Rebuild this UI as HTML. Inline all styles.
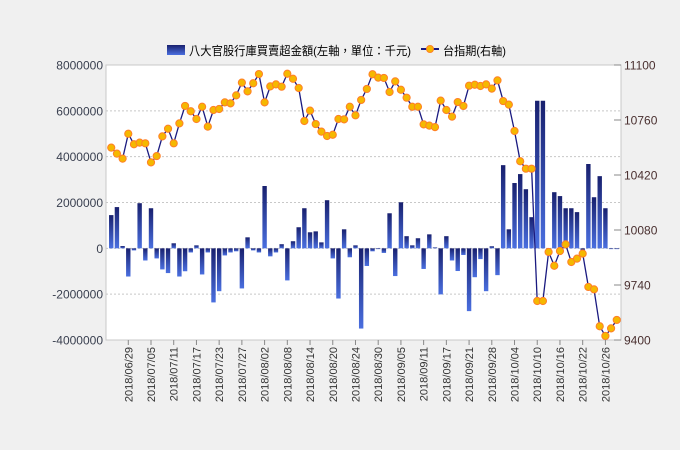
<!DOCTYPE html>
<html><head><meta charset="utf-8"><style>
body{margin:0;background:#f0f0f0;}
svg{display:block;font-family:"Liberation Sans","Noto Sans CJK TC",sans-serif;}
</style></head><body>
<svg id="chart" width="680" height="450">
<defs>
<linearGradient id="bg" x1="0" y1="0" x2="0" y2="1"><stop offset="0" stop-color="#18206e"/><stop offset="1" stop-color="#4a6fe0"/></linearGradient>
</defs>
<rect x="106" y="65" width="515" height="275" fill="#fff" stroke="#c8c8c8"/>
<g id="grid"></g><g id="bars"></g><g id="line"></g><g id="axes"></g>
<g>
<rect x="167" y="45" width="18" height="10" fill="url(#bg)"/>
<text x="189" y="55" font-size="12" fill="#000" textLength="222" lengthAdjust="spacingAndGlyphs">八大官股行庫買賣超金額(左軸，單位：千元)</text>
<line x1="421" y1="49" x2="439" y2="49" stroke="#1a1a80" stroke-width="2"/>
<circle cx="430" cy="49" r="3.5" fill="#f5b800" stroke="#ff7f27"/>
<text x="443" y="55" font-size="12" fill="#000" textLength="63" lengthAdjust="spacingAndGlyphs">台指期(右軸)</text>
</g>
</svg>
<script>
const dates=["06/26","06/27","06/28","06/29","07/02","07/03","07/04","07/05","07/06","07/09","07/10","07/11","07/12","07/13","07/16","07/17","07/18","07/19","07/20","07/23","07/24","07/25","07/26","07/27","07/30","07/31","08/01","08/02","08/03","08/06","08/07","08/08","08/09","08/10","08/13","08/14","08/15","08/16","08/17","08/20","08/21","08/22","08/23","08/24","08/27","08/28","08/29","08/30","08/31","09/03","09/04","09/05","09/06","09/07","09/10","09/11","09/12","09/13","09/14","09/17","09/18","09/19","09/20","09/21","09/25","09/26","09/27","09/28","10/01","10/02","10/03","10/04","10/05","10/08","10/09","10/10","10/11","10/12","10/15","10/16","10/17","10/18","10/19","10/22","10/23","10/24","10/25","10/26","10/29","10/30"];
const netBuy=[1450000,1800000,100000,-1230000,-90000,1970000,-530000,1750000,-440000,-920000,-1080000,220000,-1230000,-1000000,-180000,130000,-1140000,-180000,-2360000,-1870000,-310000,-180000,-130000,-1750000,480000,-90000,-180000,2720000,-350000,-180000,180000,-1400000,310000,920000,1750000,700000,740000,260000,2100000,-440000,-2190000,830000,-390000,130000,-3500000,-770000,-130000,-30000,-200000,1530000,-1210000,2010000,530000,130000,440000,-900000,610000,40000,-2010000,530000,-530000,-990000,-290000,-2740000,-1260000,-470000,-1870000,90000,-1170000,3630000,830000,2850000,3240000,2580000,1360000,6440000,6440000,-20000,2450000,2280000,1750000,1750000,1580000,-150000,3680000,2230000,3150000,1750000,-20000,-20000];
const taifex=[10589,10552,10521,10675,10610,10620,10616,10498,10537,10659,10706,10616,10739,10847,10814,10766,10842,10719,10822,10828,10869,10863,10912,10991,10937,10987,11044,10869,10968,10980,10966,11046,11015,10958,10754,10818,10735,10688,10661,10669,10766,10764,10842,10789,10884,10952,11043,11022,11020,10933,10999,10947,10898,10842,10842,10733,10725,10716,10880,10822,10781,10871,10847,10972,10978,10970,10980,10954,11005,10877,10855,10692,10505,10459,10459,9641,9641,9944,9859,9950,9991,9882,9903,9934,9728,9713,9485,9425,9472,9524];
const leftTicks=[-4000000,-2000000,0,2000000,4000000,6000000,8000000];
const rightTicks=[9400,9740,10080,10420,10760,11100];
const NS="http://www.w3.org/2000/svg";
const L=108.4,W=5.68,T=65,B=340;
const yL=v=>B-(v+4000000)/12000000*(B-T);
const yR=v=>B-(v-9400)/1700*(B-T);
const xC=i=>L+(i+0.5)*W;
function mk(tag,attrs,parent){const e=document.createElementNS(NS,tag);for(const k in attrs)e.setAttribute(k,attrs[k]);parent.appendChild(e);return e;}
const g=document.getElementById('grid'),gb=document.getElementById('bars'),gl=document.getElementById('line'),ga=document.getElementById('axes');
leftTicks.forEach(v=>{
 if(v>-4000000&&v<8000000){const ln=mk('line',{x1:106,x2:621,y1:yL(v),y2:yL(v),stroke:'#c8c8c8','stroke-dasharray':'2,2'},g);
 
 }
 const t=mk('text',{x:103,y:yL(v)+4.5,'text-anchor':'end','font-size':12,fill:'#3a4050'},ga);t.textContent=v;
 
 
});
rightTicks.forEach(v=>{
 mk('line',{x1:614,x2:621,y1:yR(v),y2:yR(v),stroke:'#888'},ga);
 const t=mk('text',{x:624,y:yR(v)+4.5,'font-size':12,fill:'#4a3030'},ga);t.textContent=v;
 
 
});
netBuy.forEach((v,i)=>{
 const y0=yL(0),y1=yL(v);
 const r=mk('rect',{x:xC(i)-2.2,y:Math.min(y0,y1),width:4.4,height:Math.max(0.8,Math.abs(y1-y0)),fill:'url(#bg)'},gb);
 
 
});
const pts=taifex.map((v,i)=>xC(i).toFixed(1)+','+yR(v).toFixed(1)).join(' ');
const pl=mk('polyline',{points:pts,fill:'none',stroke:'#1a1a80','stroke-width':1.3},gl);


taifex.forEach((v,i)=>{
 const c=mk('circle',{cx:xC(i),cy:yR(v),r:3.6,fill:'#f5b800',stroke:'#ff7f27','stroke-width':1},gl);
 
 
});
dates.forEach((d,i)=>{
 if(i%4!==3)return;
 const x=xC(i);
 mk('line',{x1:x,x2:x,y1:340,y2:345,stroke:'#888'},ga);
 const t=mk('text',{x:0,y:0,'text-anchor':'end','font-size':11,fill:'#333',transform:`translate(${x+4},347) rotate(-90)`},ga);
 t.textContent='2018/'+d;
 
 
});
</script>
</body></html>
